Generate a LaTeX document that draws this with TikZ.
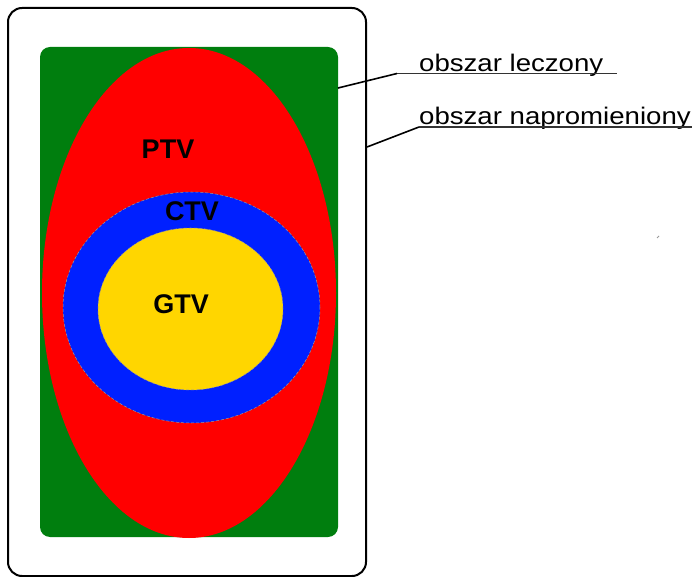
\documentclass[tikz,border=0pt]{standalone}
\usepackage{fontspec}
\setmainfont{Liberation Sans}
\usetikzlibrary{shapes.geometric}
\definecolor{cgreen}{RGB}{0,126,14}
\definecolor{cblue}{RGB}{0,32,255}
\definecolor{cgold}{RGB}{255,214,0}
\tikzset{
  region/.style={draw=none, inner sep=0pt, outer sep=0pt},
  ell/.style={ellipse, inner sep=0pt, outer sep=0pt},
  tvlabel/.style={font=\fontsize{27}{27}\selectfont\bfseries, inner sep=0pt},
  callout/.style={font=\fontsize{24}{26}\selectfont, inner sep=0pt, anchor=base west},
  leader/.style={line width=1.6pt, black},
  uline/.style={line width=1.3pt, black!80},
}
\begin{document}
\begin{tikzpicture}[x=1pt,y=-1pt]
\useasboundingbox (0,0) rectangle (699,577);
% outer frame
\node[draw=black, line width=2pt, rounded corners=14pt, minimum width=358pt, minimum height=568pt, inner sep=0pt] (frame) at (187,292) {};
% treated area (green)
\node[region, fill=cgreen, rounded corners=10pt, minimum width=298pt, minimum height=490pt] (treated) at (189,292) {};
% PTV
\node[ell, fill=red, minimum width=294pt, minimum height=490pt] (ptv) at (189,293) {};
% CTV
\node[ell, fill=cblue, draw=black!40, densely dashed, line width=0.5pt, minimum width=257pt, minimum height=231pt] (ctv) at (191.5,307.5) {};
% GTV
\node[ell, fill=cgold, draw=black!40, densely dashed, line width=0.5pt, minimum width=185pt, minimum height=162pt] (gtv) at (190.5,309) {};
% labels
\node[tvlabel] (lptv) at (168,149) {PTV};
\node[tvlabel] (lctv) at (192,211) {CTV};
\node[tvlabel] (lgtv) at (181,304) {GTV};
% callouts
\node[callout] (tleczony) at (419,71.5) {\scalebox{1.15}[1]{obszar leczony}};
\node[callout] (tnapro) at (419,125) {\scalebox{1.15}[1]{obszar napromieniony}};
\coordinate (k1) at (397,73.5);
\coordinate (k1e) at (617,73.5);
\coordinate (k2) at (419,127);
\coordinate (k2e) at (692,127);
\draw[uline] (k1) -- (k1e);
\draw[uline] (k2) -- (k2e);
\draw[leader] (treated.east |- 0,88) -- (k1);
\draw[leader] (frame.east |- 0,147) -- (k2);
% stray mark
\coordinate (m1) at (657,238);
\coordinate (m2) at (659,236);
\draw[black!40, line width=0.8pt] (m1) -- (m2);
\end{tikzpicture}
\end{document}
